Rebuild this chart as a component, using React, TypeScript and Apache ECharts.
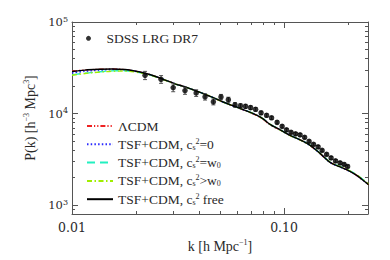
import React, { useEffect, useRef } from 'react';
import * as echarts from 'echarts';

// ---- model curves (k in h/Mpc, P in (Mpc/h)^3) ----
const modelK = [0.01, 0.0115, 0.01355, 0.0154, 0.0178, 0.0198, 0.0221, 0.0246, 0.0275, 0.0306, 0.0334, 0.036, 0.0402, 0.0448, 0.0516, 0.0587, 0.0655, 0.0746, 0.0796, 0.0859, 0.0958, 0.1067, 0.119, 0.1327, 0.1478, 0.1648, 0.1837, 0.1982, 0.2163, 0.2332, 0.25];
const pLCDM = [29000, 29950, 30450, 30650, 30250, 29150, 27550, 25580, 23250, 21180, 19880, 18750, 17060, 15420, 13360, 11930, 10830, 9500, 8650, 7560, 6620, 5790, 5180, 4490, 3660, 2940, 2630, 2430, 2175, 1915, 1685];
const pTsf0 = [27800, 29000, 29800, 30200, 30000, 29000, 27480, 25520, 23220, 21160, 19870, 18760, 17080, 15450, 13380, 11950, 10860, 9570, 8760, 7630, 6640, 5780, 5160, 4490, 3670, 2930, 2615, 2425, 2170, 1915, 1690];
const pTsfW = [26500, 27650, 28650, 29250, 29350, 28650, 27300, 25450, 23180, 21130, 19850, 18740, 17070, 15450, 13400, 11970, 10880, 9600, 8790, 7660, 6680, 5810, 5190, 4530, 3710, 2960, 2650, 2460, 2210, 1950, 1715];
const pTsfGt = [26200, 27400, 28400, 29000, 29150, 28500, 27250, 25400, 23150, 21100, 19830, 18720, 17050, 15430, 13370, 11940, 10850, 9560, 8750, 7620, 6630, 5770, 5150, 4490, 3680, 2945, 2640, 2450, 2200, 1940, 1705];
const pTsfFree = [28770, 29880, 30500, 30730, 30340, 29220, 27570, 25560, 23230, 21170, 19880, 18760, 17090, 15460, 13390, 11960, 10870, 9580, 8773, 7642, 6653, 5792, 5172, 4504, 3683, 2937, 2622, 2431, 2171, 1914, 1680];

// ---- SDSS LRG DR7 band powers ----
const dataK = [0.0221, 0.0263, 0.03, 0.0341, 0.0385, 0.0424, 0.0464, 0.0504, 0.0546, 0.0587, 0.0623, 0.0658, 0.0695, 0.0734, 0.0779, 0.0827, 0.0873, 0.0927, 0.0979, 0.1027, 0.1079, 0.1133, 0.119, 0.125, 0.1312, 0.1377, 0.1447, 0.1511, 0.1587, 0.1666, 0.1749, 0.1837, 0.1919, 0.1993];
const dataP = [26220, 23710, 19240, 17840, 16800, 15260, 13460, 15200, 14200, 12480, 12170, 12020, 11630, 11140, 10200, 9580, 9000, 8030, 7265, 6650, 6245, 6015, 5865, 5510, 4982, 4618, 4338, 3972, 3592, 3288, 3050, 2900, 2792, 2655];
const dataErr = [2700, 2300, 1900, 1600, 1400, 1200, 1000, 1000, 900, 700, 650, 600, 550, 500, 450, 400, 370, 320, 280, 250, 230, 220, 210, 200, 180, 165, 155, 140, 130, 120, 110, 105, 100, 100];

// ---- axes ----
const xMajorTicks = [0.01, 0.1];
const xTickLabels = ['0.01', '0.10'];
const xMinorTicks = [0.02, 0.03, 0.04, 0.05, 0.06, 0.07, 0.08, 0.09, 0.2];
const yMajorTicks = [1000, 10000, 100000];
const yTickExponents = ['3', '4', '5'];
const yMinorTicks = [900, 2000, 3000, 4000, 5000, 6000, 7000, 8000, 9000, 20000, 30000, 40000, 50000, 60000, 70000, 80000, 90000];
const X_MIN = 0.01;
const X_MAX = 0.2487;
const Y_MIN = 803;
const Y_MAX = 100000;

const seriesNames = ['ΛCDM', 'TSF+CDM, cs2=0', 'TSF+CDM, cs2=w0', 'TSF+CDM, cs2>w0', 'TSF+CDM, cs2 free'];
const legendRich: Record<string, string> = {
  'ΛCDM': '{t|ΛCDM}',
  'TSF+CDM, cs2=0': '{t|TSF+CDM, c}{sub|s}{sup|2}{t|=0}',
  'TSF+CDM, cs2=w0': '{t|TSF+CDM, c}{sub|s}{sup|2}{t|=w}{sub|0}',
  'TSF+CDM, cs2>w0': '{t|TSF+CDM, c}{sub|s}{sup|2}{t|>w}{sub|0}',
  'TSF+CDM, cs2 free': '{t|TSF+CDM, c}{sub|s}{sup|2}{t| free}',
};

const lg = Math.log10;
const FRAME = '#555';
const TEXT = '#2a2a2a';
const SERIF = 'Liberation Serif';
const DSERIF = 'DejaVu Serif';

export default function App() {
  const ref = useRef<HTMLDivElement>(null);
  useEffect(() => {
    if (!ref.current) return;
    const chart = echarts.init(ref.current, undefined, { renderer: 'svg' });

    const tickLine = { color: FRAME, width: 1 };
    const xBase = {
      type: 'value',
      min: lg(X_MIN),
      max: lg(X_MAX),
      splitLine: { show: false },
      axisLine: { show: true, lineStyle: { color: FRAME, width: 1 } },
      axisLabel: { show: false },
    };
    const yBase = {
      type: 'value',
      min: lg(Y_MIN),
      max: lg(Y_MAX),
      splitLine: { show: false },
      axisLine: { show: true, lineStyle: { color: FRAME, width: 1 } },
      axisLabel: { show: false },
    };
    const major = (vals: number[]) => ({ show: true, inside: true, length: 6, customValues: vals.map(lg), lineStyle: tickLine });
    const minor = (vals: number[]) => ({ show: true, inside: true, length: 3, customValues: vals.map(lg), lineStyle: tickLine });
    const findIdx = (arr: number[], v: number) => arr.findIndex((t) => Math.abs(lg(t) - v) < 1e-6);

    const modelData = [pLCDM, pTsf0, pTsfW, pTsfGt, pTsfFree];
    const colors = ['#ee2222', '#2a2aff', '#22f0c0', '#a0ee00', '#000000'];
    const dashes: any[] = [[5, 2, 1.2, 2, 1.2, 2], [1.5, 2.2], [8, 5], [5, 2.5, 1.5, 2.5], 'solid'];
    const widths = [1.4, 1.6, 1.4, 1.4, 1.4];

    const lineSeries = modelData.map((arr, s) => ({
      type: 'line',
      name: seriesNames[s],
      data: modelK.map((k, i) => [lg(k), lg(arr[i])]),
      showSymbol: false,
      symbol: 'none',
      smooth: 0.35,
      xAxisIndex: 0,
      yAxisIndex: 0,
      z: 3,
      color: colors[s],
      lineStyle: { color: colors[s], width: widths[s], type: dashes[s] },
    }));

    const option: any = {
      animation: false,
      grid: { left: 72, right: 22, top: 22, bottom: 46, outerBoundsMode: 'none' },
      xAxis: [
        {
          ...xBase,
          position: 'bottom',
          axisTick: major(xMajorTicks),
          axisLabel: {
            show: true,
            customValues: xMajorTicks.map(lg),
            formatter: (v: number) => xTickLabels[findIdx(xMajorTicks, v)] ?? '',
            margin: 7,
            fontFamily: DSERIF,
            fontSize: 12.5,
            color: TEXT,
          },
          name: '{t|k [h Mpc}{sup|−1}{t|]}',
          nameLocation: 'middle',
          nameGap: 21,
          nameTextStyle: {
            fontFamily: SERIF,
            rich: {
              t: { fontFamily: SERIF, fontSize: 14, color: TEXT, lineHeight: 16 },
              sup: { fontFamily: SERIF, fontSize: 8, color: TEXT, lineHeight: 9, verticalAlign: 'top' },
            },
          },
        },
        { ...xBase, position: 'bottom', axisLine: { show: false }, axisTick: minor(xMinorTicks) },
        { ...xBase, position: 'top', axisTick: major(xMajorTicks) },
        { ...xBase, position: 'top', axisLine: { show: false }, axisTick: minor(xMinorTicks) },
      ],
      yAxis: [
        {
          ...yBase,
          position: 'left',
          axisTick: major(yMajorTicks),
          axisLabel: {
            show: true,
            customValues: yMajorTicks.map(lg),
            formatter: (v: number) => {
              const i = findIdx(yMajorTicks, v);
              return i < 0 ? '' : `{b|10}{s|${yTickExponents[i]}}`;
            },
            margin: 4,
            rich: {
              b: { fontFamily: DSERIF, fontSize: 11.5, color: TEXT, lineHeight: 14 },
              s: { fontFamily: DSERIF, fontSize: 8, color: TEXT, lineHeight: 9, verticalAlign: 'top' },
            },
          },
          name: '{t|P(k) [h}{sup|−3}{t| Mpc}{sup|3}{t|]}',
          nameLocation: 'middle',
          nameGap: 32,
          nameTextStyle: {
            fontFamily: SERIF,
            rich: {
              t: { fontFamily: SERIF, fontSize: 14, color: TEXT, lineHeight: 16 },
              sup: { fontFamily: SERIF, fontSize: 8, color: TEXT, lineHeight: 9, verticalAlign: 'top' },
            },
          },
        },
        { ...yBase, position: 'left', axisLine: { show: false }, axisTick: minor(yMinorTicks) },
        { ...yBase, position: 'right', axisTick: major(yMajorTicks) },
        { ...yBase, position: 'right', axisLine: { show: false }, axisTick: minor(yMinorTicks) },
      ],
      legend: [
        {
          data: seriesNames,
          orient: 'vertical',
          left: 86,
          top: 119,
          padding: 0,
          itemWidth: 26,
          itemHeight: 14,
          itemGap: 4.3,
          selectedMode: false,
          itemStyle: { opacity: 0 },
          formatter: (name: string) => legendRich[name] ?? name,
          textStyle: {
            color: TEXT,
            fontFamily: SERIF,
            fontSize: 13.5,
            rich: {
              t: { fontFamily: SERIF, fontSize: 13.5, color: TEXT, lineHeight: 14 },
              sub: { fontFamily: SERIF, fontSize: 8, color: TEXT, lineHeight: 9, verticalAlign: 'bottom' },
              sup: { fontFamily: SERIF, fontSize: 8, color: TEXT, lineHeight: 9, verticalAlign: 'top' },
            },
          },
        },
        {
          data: ['SDSS LRG DR7'],
          orient: 'vertical',
          left: 86,
          top: 31.3,
          padding: 0,
          itemWidth: 26,
          itemHeight: 5,
          selectedMode: false,
          textStyle: { fontFamily: SERIF, fontSize: 13.5, color: TEXT, lineHeight: 14 },
        },
      ],
      series: [
        ...lineSeries,
        {
          type: 'custom',
          name: 'errors',
          xAxisIndex: 0,
          yAxisIndex: 0,
          z: 4,
          data: dataK.map((k, i) => [lg(k), lg(dataP[i] - dataErr[i]), lg(dataP[i] + dataErr[i])]),
          encode: { x: 0, y: [1, 2] },
          renderItem: (params: any, api: any) => {
            const x = api.value(0);
            const lo = api.coord([x, api.value(1)]);
            const hi = api.coord([x, api.value(2)]);
            const cap = 2;
            const style = { stroke: '#444', lineWidth: 0.9 };
            return {
              type: 'group',
              children: [
                { type: 'line', shape: { x1: lo[0], y1: lo[1], x2: hi[0], y2: hi[1] }, style },
                { type: 'line', shape: { x1: lo[0] - cap, y1: lo[1], x2: lo[0] + cap, y2: lo[1] }, style },
                { type: 'line', shape: { x1: hi[0] - cap, y1: hi[1], x2: hi[0] + cap, y2: hi[1] }, style },
              ],
            };
          },
        },
        {
          type: 'scatter',
          name: 'SDSS LRG DR7',
          xAxisIndex: 0,
          yAxisIndex: 0,
          z: 5,
          symbol: 'circle',
          symbolSize: 5.5,
          itemStyle: { color: '#000' },
          data: dataK.map((k, i) => [lg(k), lg(dataP[i])]),
        },
      ],
    };
    chart.setOption(option);
    return () => chart.dispose();
  }, []);
  return <div ref={ref} style={{ position: 'absolute', left: 0, top: 0, width: 390, height: 260 }} />;
}
